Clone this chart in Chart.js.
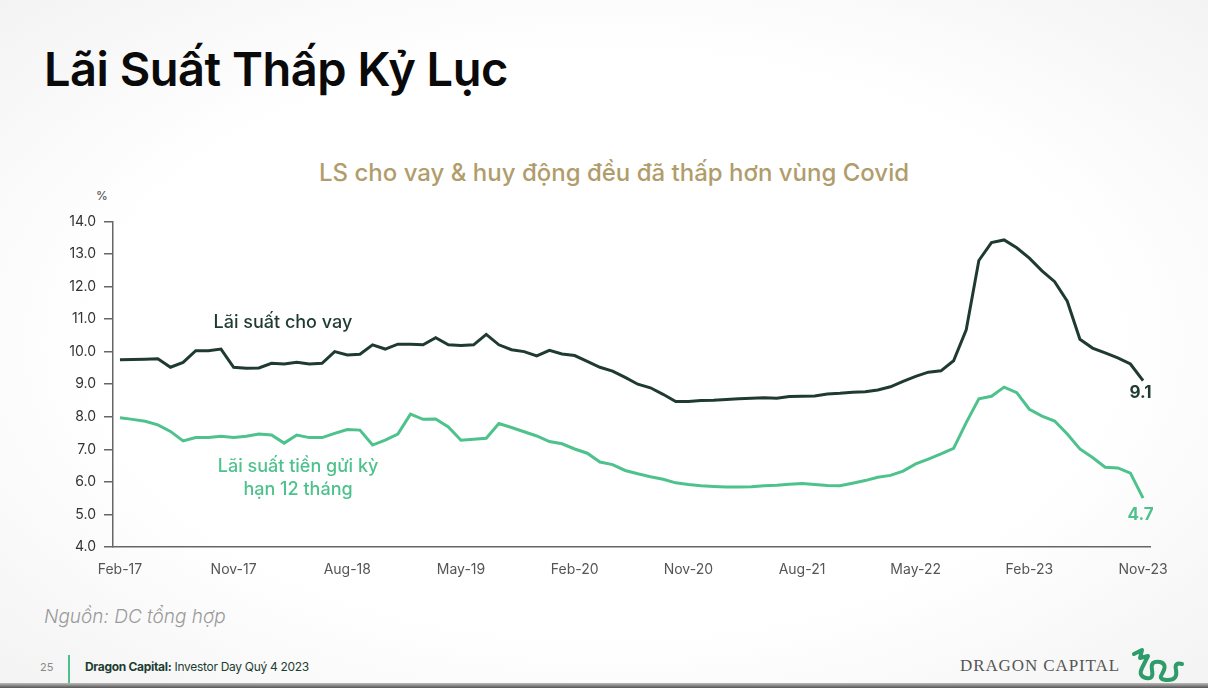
<!DOCTYPE html>
<html lang="vi">
<head>
<meta charset="utf-8">
<title>Lãi Suất Thấp Kỷ Lục</title>
<script src="https://cdn.jsdelivr.net/npm/chart.js@4.4.1/dist/chart.umd.min.js"></script>
<style>
  html, body { margin: 0; padding: 0; }
  body {
    width: 1208px; height: 688px; position: relative; overflow: hidden;
    background: radial-gradient(ellipse at center, #ffffff 60%, #f3f3f3 100%);
    font-family: Inter, "Noto Sans", sans-serif;
  }
  #title { position: absolute; left: 44px; top: 40px; margin: 0; font-size: 47px; font-weight: 600; color: #0a0a0a; letter-spacing: -0.5px; }
  #subtitle { position: absolute; left: 0; width: 1228px; top: 158px; text-align: center; font-size: 24px; font-weight: 500; color: #b19d6b; }
  #unit { position: absolute; left: 96px; top: 188px; font-size: 12px; color: #444; }
  #wrap { position: absolute; left: 40px; top: 205px; width: 1168px; height: 380px; }
  #source { position: absolute; left: 44px; top: 605px; font-size: 19px; font-style: italic; color: #9a9a9a; font-weight: 300; }
  #footer { position: absolute; left: 0; top: 652px; width: 1208px; height: 36px; }
  #pg { position: absolute; left: 40px; top: 8px; font-size: 11px; color: #888; }
  #bar { position: absolute; left: 68px; top: 3px; width: 2px; height: 33px; background: #4cc08a; }
  #event { position: absolute; left: 85px; top: 7px; font-size: 12px; color: #1e3d32; letter-spacing: -0.3px; }
  #event b { font-weight: 700; }
  #brand { position: absolute; left: 960px; top: 4px; font-family: "Liberation Serif", "DejaVu Serif", serif; font-size: 17px; letter-spacing: 0.9px; color: #555; }
  #logo { position: absolute; left: 1128px; top: -6px; }
  #shadow { position: absolute; left: 0; bottom: 0; width: 1208px; height: 5px; background: linear-gradient(#bbb, #555); }
</style>
</head>
<body>
<h1 id="title">Lãi Suất Thấp Kỷ Lục</h1>
<div id="subtitle">LS cho vay &amp; huy động đều đã thấp hơn vùng Covid</div>
<div id="unit">%</div>
<div id="wrap"><canvas id="chartLaiSuat"></canvas></div>
<div id="source">Nguồn: DC tổng hợp</div>
<div id="footer">
  <div id="pg">25</div>
  <div id="bar"></div>
  <div id="event"><b>Dragon Capital:</b> Investor Day Quý 4 2023</div>
  <div id="brand">DRAGON CAPITAL</div>
  <svg id="logo" width="60" height="40" viewBox="0 0 60 40">
    <path d="M6 8 L14 4 L12 12 L20 10 L14 22 Q10 30 18 32 Q26 34 24 24 Q22 14 32 16 Q40 18 34 28 Q30 34 40 34 Q50 34 48 24 Q46 16 54 18" fill="none" stroke="#2e9c6a" stroke-width="4" stroke-linecap="round" stroke-linejoin="round"/>
  </svg>
</div>
<div id="shadow"></div>

<script>
// tháng: Feb-17 .. Nov-23
const monthNames = ['Jan','Feb','Mar','Apr','May','Jun','Jul','Aug','Sep','Oct','Nov','Dec'];
const months = [];
for (let y = 2017, m = 1; !(y === 2023 && m > 10); ) {
    months.push(monthNames[m] + '-' + String(y).slice(2));
    m++;
    if (m > 11) { m = 0; y++; }
}
const tickLabels = ['Feb-17','Nov-17','Aug-18','May-19','Feb-20','Nov-20','Aug-21','May-22','Feb-23','Nov-23'];
const yTicks = [4, 5, 6, 7, 8, 9, 10, 11, 12, 13, 14];

// Lãi suất cho vay (%)
const lendingRate = [
    9.75, 9.76, 9.77, 9.78, 9.52, 9.67, 10.03, 10.03, 10.08, 9.52,
    9.49, 9.50, 9.64, 9.62, 9.67, 9.62, 9.64, 10.00, 9.90, 9.92,
    10.21, 10.08, 10.23, 10.23, 10.21, 10.43, 10.21, 10.19, 10.21, 10.53,
    10.21, 10.06, 10.00, 9.87, 10.04, 9.93, 9.88, 9.70, 9.52, 9.40,
    9.21, 9.00, 8.89, 8.69, 8.47, 8.47, 8.50, 8.51, 8.53, 8.55,
    8.57, 8.58, 8.57, 8.62, 8.63, 8.64, 8.70, 8.72, 8.75, 8.77,
    8.82, 8.92, 9.09, 9.24, 9.37, 9.41, 9.72, 10.67, 12.80, 13.35,
    13.43, 13.19, 12.87, 12.48, 12.15, 11.55, 10.38, 10.11, 9.96, 9.81,
    9.62, 9.11
];
// Lãi suất tiền gửi kỳ hạn 12 tháng (%)
const depositRate = [
    7.97, 7.92, 7.86, 7.75, 7.55, 7.26, 7.36, 7.36, 7.40, 7.36,
    7.40, 7.47, 7.44, 7.19, 7.44, 7.36, 7.36, 7.49, 7.61, 7.59,
    7.13, 7.28, 7.47, 8.08, 7.92, 7.93, 7.69, 7.28, 7.31, 7.34,
    7.79, 7.67, 7.54, 7.41, 7.24, 7.17, 7.01, 6.88, 6.61, 6.53,
    6.35, 6.25, 6.16, 6.08, 5.97, 5.92, 5.88, 5.86, 5.84, 5.84,
    5.85, 5.88, 5.90, 5.93, 5.95, 5.92, 5.89, 5.88, 5.96, 6.04,
    6.14, 6.20, 6.33, 6.55, 6.70, 6.86, 7.03, 7.82, 8.55, 8.63,
    8.91, 8.74, 8.23, 8.02, 7.87, 7.47, 7.01, 6.75, 6.45, 6.43,
    6.27, 5.50
];
const endLabels = ['9.1', '4.7'];

const darkGreen = '#1f3b31';
const lightGreen = '#4ec28c';

// chữ chú thích vẽ theo toạ độ của trục
const annotations = [
    { text: 'Lãi suất cho vay', x: 12.9, y: 10.88, color: darkGreen, font: '500 18px Inter' },
    { text: 'Lãi suất tiền gửi kỳ', x: 14.1, y: 6.46, color: lightGreen, font: '500 18px Inter' },
    { text: 'hạn 12 tháng', x: 14.1, y: 5.76, color: lightGreen, font: '500 18px Inter' },
    { text: endLabels[0], x: 80.8, y: 8.72, color: darkGreen, font: '700 17px Inter' },
    { text: endLabels[1], x: 80.8, y: 4.98, color: lightGreen, font: '700 17px Inter' }
];

const annotationPlugin = {
    id: 'annotationText',
    afterDatasetsDraw(chart) {
        const { ctx, scales } = chart;
        ctx.save();
        ctx.textAlign = 'center';
        ctx.textBaseline = 'middle';
        annotations.forEach(a => {
            ctx.font = a.font;
            ctx.fillStyle = a.color;
            ctx.fillText(a.text, scales.x.getPixelForValue(a.x), scales.y.getPixelForValue(a.y));
        });
        ctx.restore();
    }
};

const toPoints = arr => arr.map((v, i) => ({ x: i, y: v }));

document.addEventListener("DOMContentLoaded", function () {
    const canvas = document.getElementById('chartLaiSuat');
    new Chart(canvas, {
        type: 'line',
        data: {
            datasets: [
                { label: 'Lãi suất cho vay', data: toPoints(lendingRate), borderColor: darkGreen, borderWidth: 3, pointRadius: 0, tension: 0 },
                { label: 'Lãi suất tiền gửi kỳ hạn 12 tháng', data: toPoints(depositRate), borderColor: lightGreen, borderWidth: 3, pointRadius: 0, tension: 0 }
            ]
        },
        options: {
            responsive: true,
            maintainAspectRatio: false,
            animation: false,
            layout: { padding: { top: 14, right: 58, left: 0, bottom: 0 } },
            plugins: { legend: { display: false }, tooltip: { enabled: false } },
            scales: {
                x: {
                    type: 'linear',
                    min: -0.55,
                    max: 81.55,
                    afterBuildTicks: axis => {
                        axis.ticks = tickLabels.map(l => ({ value: months.indexOf(l) }));
                    },
                    ticks: {
                        callback: v => months[v],
                        color: '#555', font: { family: 'Inter', size: 14 }, padding: 14,
                        maxRotation: 0, autoSkip: false
                    },
                    grid: { drawOnChartArea: false, drawTicks: false },
                    border: { color: '#666', width: 1.5 },
                    afterFit: axis => { axis.height = 38; }
                },
                y: {
                    min: 4,
                    max: 14,
                    afterBuildTicks: axis => { axis.ticks = yTicks.map(v => ({ value: v })); },
                    ticks: {
                        callback: v => v.toFixed(1),
                        color: '#333', font: { family: 'Inter', size: 14 }, padding: 8
                    },
                    grid: { drawOnChartArea: false, drawTicks: true, tickLength: 9, color: '#666', lineWidth: 1.5 },
                    border: { color: '#666', width: 1.5 },
                    afterFit: axis => { axis.width = 73; }
                }
            }
        },
        plugins: [annotationPlugin]
    });
});
</script>
</body>
</html>
